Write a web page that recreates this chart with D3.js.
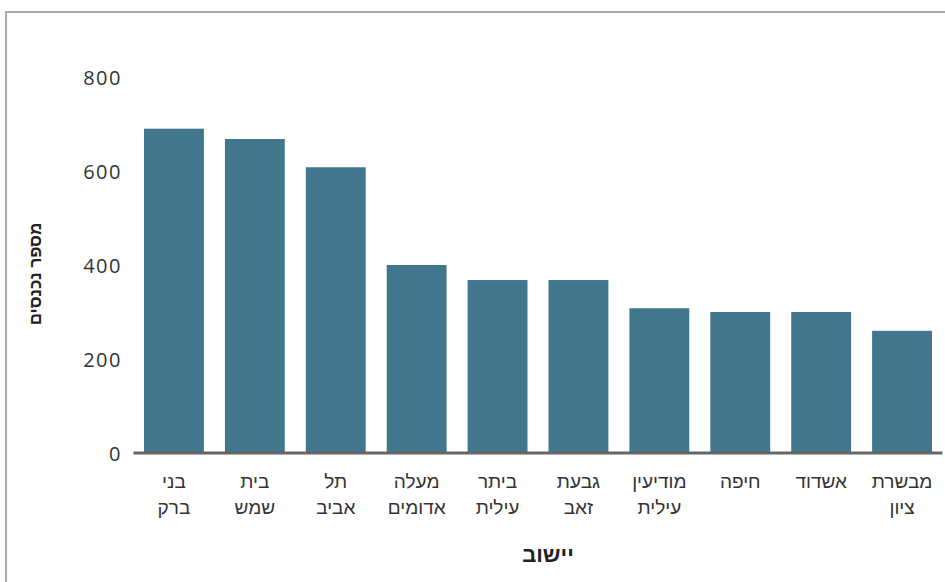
<!DOCTYPE html>
<html><head><meta charset="utf-8">
<script src="https://cdn.jsdelivr.net/npm/d3@7"></script>
<style>body{margin:0;background:#fff;} svg{display:block;}</style>
</head><body>
<script>
const categories = ["בני ברק","בית שמש","תל אביב","מעלה אדומים","ביתר עילית","גבעת זאב","מודיעין עילית","חיפה","אשדוד","מבשרת ציון"];
const values = [690, 668, 608, 400, 368, 368, 308, 300, 300, 260];
const yTicks = [0, 200, 400, 600, 800];
const yTitle = "מספר נכנסים";
const xTitle = "יישוב";

const W = 945, H = 582;
const svg = d3.select("body").append("svg").attr("width", W).attr("height", H);

svg.append("rect").attr("x", 6).attr("y", 12).attr("width", 1000).attr("height", 1000)
  .attr("fill", "none").attr("stroke", "#aaa").attr("stroke-width", 2);

const x = d3.scaleBand().domain(categories).range([133.5, 942.5]).paddingInner(0.26).paddingOuter(0.13);
const y = d3.scaleLinear().domain([0, 800]).range([453, 77]);

svg.append("g").selectAll("rect").data(categories).join("rect")
  .attr("x", d => x(d)).attr("width", x.bandwidth())
  .attr("y", (d, i) => y(values[i])).attr("height", (d, i) => y(0) - y(values[i]))
  .attr("fill", "#41768c");

const yAxis = svg.append("g").attr("transform", "translate(122,0)")
  .call(d3.axisLeft(y).tickValues(yTicks).tickSize(0).tickPadding(0));
yAxis.select(".domain").remove();
yAxis.selectAll("text").attr("font-family", "'Open Sans', sans-serif").attr("font-size", 20)
  .attr("fill", "#333").attr("dy", "0.35em").attr("letter-spacing", 1.5);

const xAxis = svg.append("g").attr("transform", `translate(0,${y(0)})`)
  .call(d3.axisBottom(x).tickSize(0).tickFormat(""));
xAxis.select(".domain").attr("stroke", "#666").attr("stroke-width", 3)
  .attr("d", `M${x.range()[0]},0H${x.range()[1]}`);

const lab = svg.append("g");
categories.forEach(c => {
  const words = c.split(" ");
  const t = lab.append("text").attr("x", x(c) + x.bandwidth()/2).attr("y", 488)
    .attr("text-anchor", "middle").attr("font-family", "'Liberation Sans', Arial, sans-serif")
    .attr("font-size", 19).attr("fill", "#333").attr("direction", "rtl");
  words.forEach((w, i) => t.append("tspan").attr("x", x(c) + x.bandwidth()/2)
    .attr("dy", i === 0 ? 0 : 26).text(w));
});

svg.append("text").attr("transform", "translate(41,274) rotate(-90)")
  .attr("text-anchor", "middle").attr("font-family", "'Liberation Sans', Arial, sans-serif")
  .attr("font-weight", "bold").attr("font-size", 17).attr("fill", "#222").text(yTitle);

svg.append("text").attr("x", 548).attr("y", 562).attr("text-anchor", "middle")
  .attr("font-family", "'Liberation Sans', Arial, sans-serif").attr("font-weight", "bold")
  .attr("font-size", 22).attr("fill", "#222").text(xTitle);
</script>
</body></html>
